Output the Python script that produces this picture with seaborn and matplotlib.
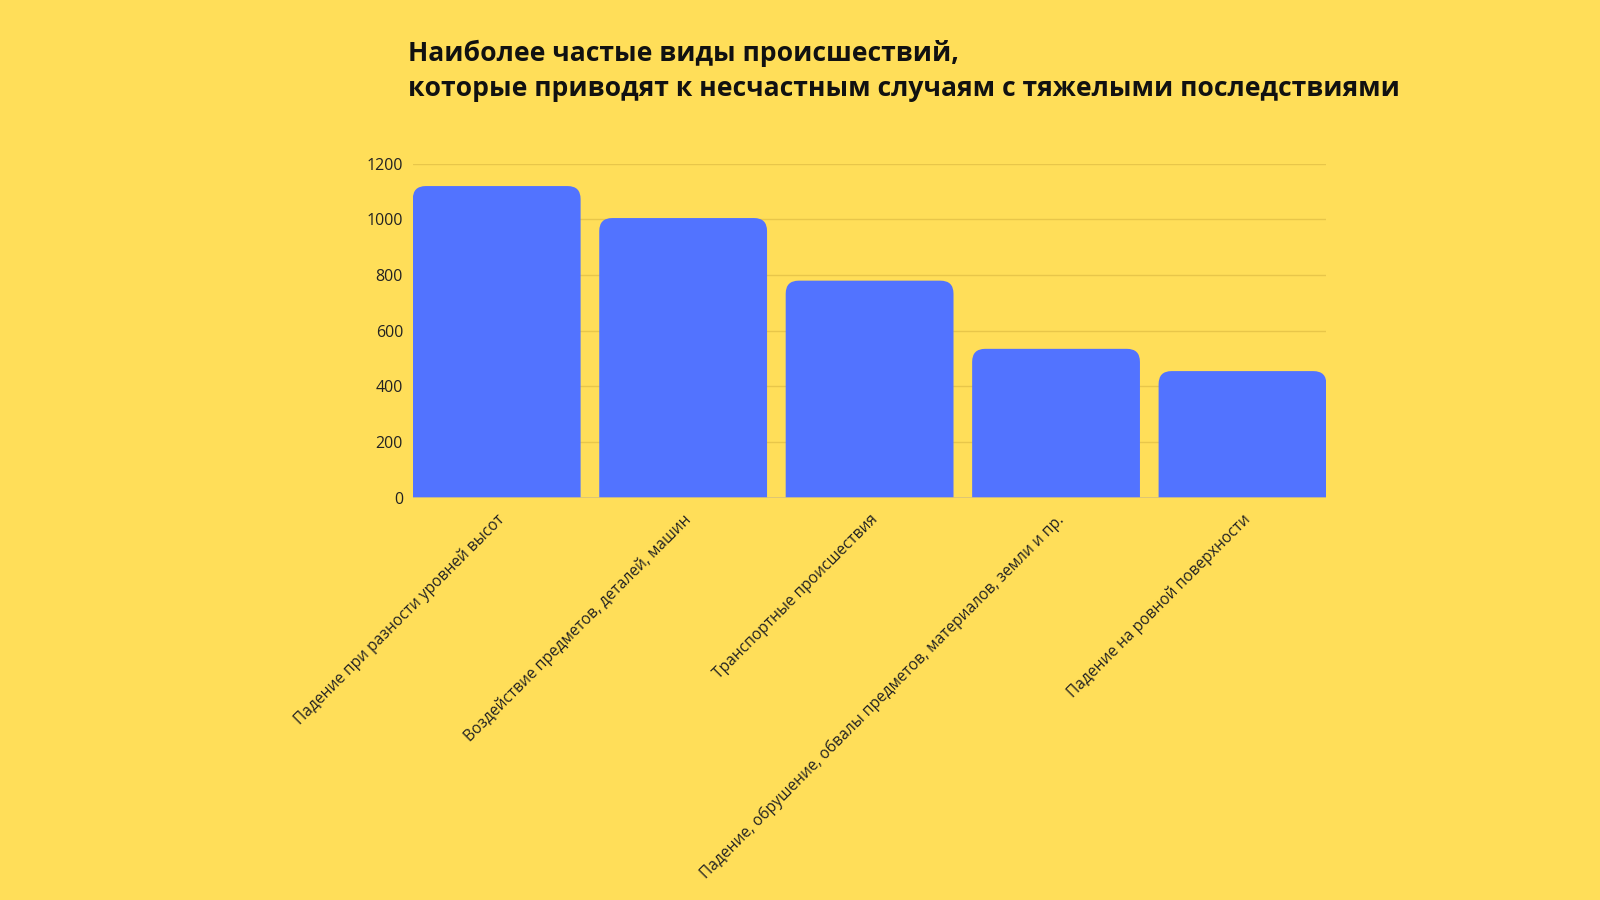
import numpy as np
import pandas as pd
import matplotlib
matplotlib.use("Agg")
import matplotlib.pyplot as plt
import seaborn as sns
from matplotlib.patches import FancyBboxPatch

# ----------------- data -----------------
categories = [
    "Падение при разности уровней высот",
    "Воздействие предметов, деталей, машин",
    "Транспортные происшествия",
    "Падение, обрушение, обвалы предметов, материалов, земли и пр.",
    "Падение на ровной поверхности",
]
counts = [1120, 1005, 780, 535, 455]
y_ticks = [0, 200, 400, 600, 800, 1000, 1200]

title = ("Наиболее частые виды происшествий,\n"
         "которые приводят к несчастным случаям с тяжелыми последствиями")

bg = "#FFDE59"
bar_color = "#5273FF"

df = pd.DataFrame({"category": categories, "count": counts})

# ----------------- plot -----------------
sns.set_theme(style="white")
plt.rcParams["font.family"] = ["Open Sans", "DejaVu Sans"]

fig = plt.figure(figsize=(16, 9), dpi=100, facecolor=bg)
ax = fig.add_axes([0.258, 0.447, 0.571, 0.371])
ax.set_facecolor(bg)

sns.barplot(data=df, x="category", y="count", color=bar_color,
            width=0.9, saturation=1, ax=ax, zorder=3)

# rounded tops: swap the plain bars for rounded ones, bottoms hidden below 0
ax.set_xlim(-0.45, len(categories) - 0.55)
ax.set_ylim(0, 1200)
fig.canvas.draw()
bbox = ax.get_window_extent()
px_x = bbox.width / (ax.get_xlim()[1] - ax.get_xlim()[0])
px_y = bbox.height / (ax.get_ylim()[1] - ax.get_ylim()[0])
r_px = 13
r_x = r_px / px_x
aspect = px_x / px_y
drop = 3 * r_px / px_y
for p in list(ax.patches):
    x, y, w, h = p.get_x(), p.get_y(), p.get_width(), p.get_height()
    p.remove()
    ax.add_patch(FancyBboxPatch((x, y - drop), w, h + drop,
                                boxstyle=f"round,pad=0,rounding_size={r_x}",
                                mutation_aspect=aspect,
                                facecolor=bar_color, edgecolor="none",
                                zorder=3))

ax.set_yticks(y_ticks)
ax.set_yticklabels([str(t) for t in y_ticks], fontsize=11.5, color="#222222")
ax.yaxis.grid(True, color="#E8C64A", linewidth=1, zorder=0)
ax.tick_params(axis="y", length=0, pad=7)
ax.tick_params(axis="x", length=0, pad=10)
ax.set_xticks(range(len(categories)))
ax.set_xticklabels(categories, rotation=45, ha="right", va="top",
                   rotation_mode="anchor", fontsize=11.2, color="#222222")
ax.set_xlabel("")
ax.set_ylabel("")
for s in ax.spines.values():
    s.set_visible(False)
ax.axhline(0, color="#D9C37A", linewidth=1.2, zorder=4)

fig.text(0.255, 1 - 39 / 882, title, fontsize=19.1, fontweight="bold",
         color="#111111", va="top", ha="left", linespacing=1.45)

fig.savefig("out.png", dpi=100, facecolor=bg)
